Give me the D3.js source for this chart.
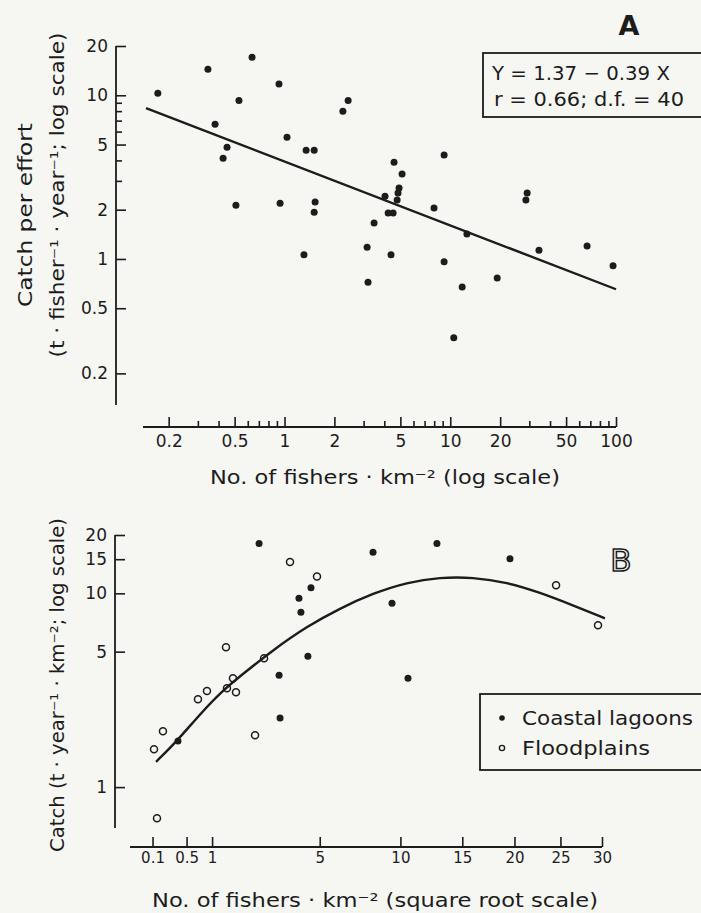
<!DOCTYPE html>
<html>
<head>
<meta charset="utf-8">
<script src="https://cdn.jsdelivr.net/npm/d3@7"></script>
<style>
    html, body { margin: 0; padding: 0; background: #f6f6f3; }
    svg { display: block; }
    text { font-family: "DejaVu Sans", sans-serif; fill: #1c1c1c; }
</style>
</head>
<body>
<svg id="chart" width="701" height="913"></svg>
<script>
// ---- Panel A: catch per effort vs fishers (log-log) ----
const fishersA = [0.172, 0.345, 0.637, 0.926, 0.531, 0.381, 0.45, 0.426, 0.509, 0.94,
    1.035, 1.35, 1.51, 1.53, 1.51, 1.31, 2.25, 2.42, 9.18, 4.58,
    5.12, 4.84, 4.78, 4.91, 4.04, 4.22, 4.52, 3.47, 7.98, 12.6,
    3.15, 4.39, 3.19, 9.18, 11.8, 19.2, 10.5, 29.1, 28.6, 34.3,
    66.9, 96];
const cpueA = [10.3, 14.4, 17.1, 11.7, 9.3, 6.65, 4.82, 4.13, 2.13, 2.19,
    5.54, 4.62, 4.62, 2.23, 1.93, 1.06, 7.99, 9.3, 4.31, 3.9,
    3.3, 2.53, 2.29, 2.71, 2.42, 1.91, 1.91, 1.66, 2.05, 1.42,
    1.18, 1.06, 0.72, 0.96, 0.675, 0.766, 0.33, 2.53, 2.29, 1.13,
    1.2, 0.91];
const ticksAx = [0.2, 0.5, 1, 2, 5, 10, 20, 50, 100];
const minorAx = [0.3, 0.4, 0.6, 0.7, 0.8, 0.9, 3, 4, 6, 7, 8, 9, 30, 40, 60, 70, 80, 90];
const ticksAy = [0.2, 0.5, 1, 2, 5, 10, 20];
const minorAy = [3, 4, 6, 7, 8, 9];
// fitted line printed on the figure: ln Y = 1.37 - 0.39 ln X
const eqIntercept = 1.37;
const eqSlope = -0.39;
const fitRangeA = [0.146, 100];

// ---- Panel B: catch vs fishers ----
const lagoonX = [2.37, 8.11, 12.83, 19.54, 4.56, 3.99, 4.08, 9.4, 4.41, 3.13, 10.56, 3.17, 0.37];
const lagoonY = [18.1, 16.3, 18.1, 15.1, 10.7, 9.42, 7.98, 8.88, 4.73, 3.78, 3.65, 2.27, 1.73];
const floodX = [1.345, 2.55, 1.537, 1.371, 1.624, 0.886, 0.702, 0.19, 0.111, 2.23, 0.135, 3.59, 4.86, 24.5, 29.5];
const floodY = [5.27, 4.62, 3.65, 3.24, 3.09, 3.13, 2.84, 1.94, 1.57, 1.85, 0.69, 14.5, 12.2, 11.0, 6.84];
const curveBX = [0.127, 0.37, 0.741, 1.266, 1.743, 2.887, 4.367, 6.093, 8.107, 10.48, 13.08, 15.96, 19.23, 22.7, 26.46, 30.37];
const curveBY = [1.35, 1.75, 2.38, 3.16, 3.73, 5.1, 6.75, 8.37, 10.0, 11.4, 12.1, 12.1, 11.4, 10.1, 8.67, 7.43];
const ticksBx = [0.1, 0.5, 1, 5, 10, 15, 20, 25, 30];
const ticksBy = [1, 5, 10, 15, 20];

const ink = '#1c1c1c';
const paper = '#f6f6f3';
const svg = d3.select('#chart');
const fmt = d3.format('~g');

// Scales
const xA = d3.scaleLog().domain([0.14, 100]).range([143, 616]);
const yA = d3.scaleLog().domain([0.13, 20]).range([404, 46]);
const xB = d3.scaleSqrt().domain([0, 30]).range([125, 602]);
const yB = d3.scaleLog().domain([0.615, 20]).range([828, 535]);

function styleAxis(g, fontSize) {
    g.select('.domain').remove();
    g.selectAll('line').attr('stroke', ink).attr('stroke-width', 1.6);
    g.selectAll('text')
        .attr('font-size', fontSize)
        .attr('font-family', '"DejaVu Sans", sans-serif')
        .attr('fill', ink);
}

// ---- Panel A axes ----
const gAy = svg.append('g').attr('transform', 'translate(116,0)')
    .call(d3.axisLeft(yA).tickValues(ticksAy).tickFormat(fmt).tickSizeInner(-10).tickSizeOuter(0).tickPadding(8));
styleAxis(gAy, 17);
const gAyMinor = svg.append('g').attr('transform', 'translate(116,0)')
    .call(d3.axisLeft(yA).tickValues(minorAy).tickFormat('').tickSizeInner(-6).tickSizeOuter(0));
styleAxis(gAyMinor, 17);
svg.append('line').attr('x1', 116).attr('x2', 116).attr('y1', yA(20)).attr('y2', 405)
    .attr('stroke', ink).attr('stroke-width', 1.8);

const gAx = svg.append('g').attr('transform', 'translate(0,427)')
    .call(d3.axisBottom(xA).tickValues(ticksAx).tickFormat(fmt).tickSizeInner(-10).tickSizeOuter(0).tickPadding(8));
styleAxis(gAx, 17);
const gAxMinor = svg.append('g').attr('transform', 'translate(0,427)')
    .call(d3.axisBottom(xA).tickValues(minorAx).tickFormat('').tickSizeInner(-6).tickSizeOuter(0));
styleAxis(gAxMinor, 17);
svg.append('line').attr('x1', 143).attr('x2', xA(100)).attr('y1', 427).attr('y2', 427)
    .attr('stroke', ink).attr('stroke-width', 1.8);

// fitted line A
const fitA = fitRangeA.map(x => [x, Math.exp(eqIntercept + eqSlope * Math.log(x))]);
svg.append('path')
    .attr('d', d3.line().x(d => xA(d[0])).y(d => yA(d[1]))(fitA))
    .attr('fill', 'none').attr('stroke', ink).attr('stroke-width', 2.4);

svg.append('g').selectAll('circle')
    .data(d3.zip(fishersA, cpueA))
    .join('circle')
    .attr('cx', d => xA(d[0]))
    .attr('cy', d => yA(d[1]))
    .attr('r', 3.5)
    .attr('fill', ink);

// Labels
function label(x, y, txt, size, len, rotate) {
    const t = svg.append('text')
        .attr('transform', `translate(${x},${y})` + (rotate ? ' rotate(-90)' : ''))
        .attr('text-anchor', 'middle')
        .attr('dy', '0.35em')
        .attr('font-size', size)
        .text(txt);
    if (len) t.attr('textLength', len).attr('lengthAdjust', 'spacingAndGlyphs');
    return t;
}
label(25, 215, 'Catch per effort', 20, 184, true);
label(57, 195, '(t · fisher⁻¹ · year⁻¹; log scale)', 19, 325, true);
label(385, 477, 'No. of fishers · km⁻² (log scale)', 19, 350, false);
label(629, 26, 'A', 27, null, false).attr('font-weight', 'bold');

svg.append('rect').attr('x', 483).attr('y', 53).attr('width', 220).attr('height', 64)
    .attr('fill', 'none').attr('stroke', ink).attr('stroke-width', 1.8);
svg.append('text').attr('x', 492).attr('y', 73).attr('dy', '0.35em').attr('font-size', 20)
    .attr('textLength', 178).attr('lengthAdjust', 'spacingAndGlyphs').text('Y = 1.37 − 0.39 X');
svg.append('text').attr('x', 494).attr('y', 99).attr('dy', '0.35em').attr('font-size', 20)
    .attr('textLength', 190).attr('lengthAdjust', 'spacingAndGlyphs').text('r = 0.66; d.f. = 40');

// ---- Panel B axes ----
const gBy = svg.append('g').attr('transform', 'translate(115,0)')
    .call(d3.axisLeft(yB).tickValues(ticksBy).tickFormat(fmt).tickSizeInner(-10).tickSizeOuter(0).tickPadding(8));
styleAxis(gBy, 17);
svg.append('line').attr('x1', 115).attr('x2', 115).attr('y1', yB(20)).attr('y2', 828)
    .attr('stroke', ink).attr('stroke-width', 1.8);

const gBx = svg.append('g').attr('transform', 'translate(0,847)')
    .call(d3.axisBottom(xB).tickValues(ticksBx).tickFormat(fmt).tickSizeInner(-10).tickSizeOuter(0).tickPadding(5));
styleAxis(gBx, 15);
svg.append('line').attr('x1', 130).attr('x2', xB(30)).attr('y1', 847).attr('y2', 847)
    .attr('stroke', ink).attr('stroke-width', 1.8);

// fitted curve B
svg.append('path')
    .attr('d', d3.line().x(d => xB(d[0])).y(d => yB(d[1])).curve(d3.curveBasis)(d3.zip(curveBX, curveBY)))
    .attr('fill', 'none').attr('stroke', ink).attr('stroke-width', 2.4);

svg.append('g').selectAll('circle')
    .data(d3.zip(lagoonX, lagoonY))
    .join('circle')
    .attr('cx', d => xB(d[0]))
    .attr('cy', d => yB(d[1]))
    .attr('r', 3.5)
    .attr('fill', ink);

svg.append('g').selectAll('circle')
    .data(d3.zip(floodX, floodY))
    .join('circle')
    .attr('cx', d => xB(d[0]))
    .attr('cy', d => yB(d[1]))
    .attr('r', 3.5)
    .attr('fill', 'none')
    .attr('stroke', ink)
    .attr('stroke-width', 1.5);

label(57, 685, 'Catch (t · year⁻¹ · km⁻²; log scale)', 19, 334, true);
label(375, 900, 'No. of fishers · km⁻² (square root scale)', 19, 446, false);
// outlined letter, as in the print
label(621, 560, 'B', 31, null, false)
    .style('fill', paper).style('stroke', ink).style('stroke-width', 1.5);

// legend B
svg.append('rect').attr('x', 480).attr('y', 694).attr('width', 223).attr('height', 76)
    .attr('fill', 'none').attr('stroke', ink).attr('stroke-width', 1.8);
svg.append('circle').attr('cx', 502).attr('cy', 718).attr('r', 2.8).attr('fill', ink);
svg.append('circle').attr('cx', 502).attr('cy', 748).attr('r', 2.6)
    .attr('fill', 'none').attr('stroke', ink).attr('stroke-width', 1.4);
svg.append('text').attr('x', 522).attr('y', 718).attr('dy', '0.35em').attr('font-size', 19)
    .attr('textLength', 171).attr('lengthAdjust', 'spacingAndGlyphs').text('Coastal lagoons');
svg.append('text').attr('x', 522).attr('y', 748).attr('dy', '0.35em').attr('font-size', 19)
    .attr('textLength', 128).attr('lengthAdjust', 'spacingAndGlyphs').text('Floodplains');
</script>
</body>
</html>
